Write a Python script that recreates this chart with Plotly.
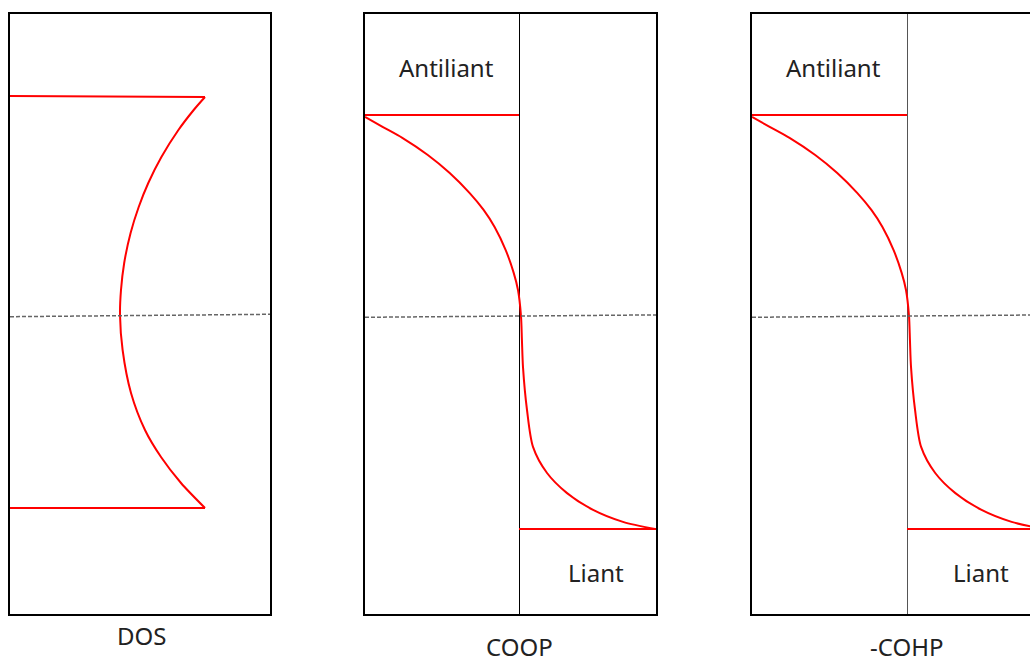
import plotly.graph_objects as go

# ---------------- data ----------------
# DOS panel (x: density, 0..1 ; E: energy, -1..1)
dos_level_top = 0.727
dos_level_bottom = -0.647
dos_curve_x = [0.75, 0.7065, 0.6477, 0.5823, 0.5319, 0.495, 0.4638, 0.4392, 0.4269, 0.4231,
               0.4331, 0.4654, 0.5192, 0.5808, 0.6577, 0.75]
dos_curve_e = [0.7233, 0.68, 0.6133, 0.5233, 0.4367, 0.3567, 0.27, 0.17, 0.08, -0.0033,
               -0.12, -0.2633, -0.3867, -0.4767, -0.5633, -0.6467]

# COOP / -COHP panels (x: population, negative = antibonding)
ab_level = 0.663      # antibonding band edge (top)
b_level = -0.717      # bonding band edge (bottom)
pop_curve_x = [-1.0, -0.8831, -0.7578, -0.5922, -0.4500, -0.3201, -0.2299, -0.1584, -0.0864,
               -0.0344, -0.0065, 0.013, 0.019, 0.026, 0.052, 0.091, 0.182, 0.312, 0.481,
               0.675, 0.883]
pop_curve_e = [0.657, 0.623, 0.587, 0.530, 0.470, 0.403, 0.347, 0.290, 0.213, 0.137,
               0.080, -0.007, -0.087, -0.177, -0.320, -0.443, -0.530, -0.597, -0.653,
               -0.693, -0.717]
pop_right_end = 0.8896

fermi_e = [-0.009, -0.001]

panel_titles = ["DOS", "COOP", "-COHP"]
top_label = "Antiliant"
bottom_label = "Liant"

# ---------------- figure ----------------
RED = "#ff0000"
fig = go.Figure()

def add(x, y, ax, **kw):
    fig.add_trace(go.Scatter(x=x, y=y, mode="lines", xaxis="x" + ax, yaxis="y" + ax,
                             showlegend=False, hoverinfo="skip", **kw))

# Panel 1: DOS
add([0, dos_curve_x[0]], [dos_level_top, dos_curve_e[0]], "", line=dict(color=RED, width=2))
add(dos_curve_x, dos_curve_e, "", line=dict(color=RED, width=2, shape="spline", smoothing=0.8))
add([dos_curve_x[-1], 0], [dos_curve_e[-1], dos_level_bottom], "", line=dict(color=RED, width=2))
add([0, 1], fermi_e, "", line=dict(color="#666666", width=1.5, dash="4px,2px"))

# Panels 2 and 3
for ax in ["2", "3"]:
    add([-1, 0], [ab_level, ab_level], ax, line=dict(color=RED, width=2))
    add(pop_curve_x, pop_curve_e, ax, line=dict(color=RED, width=2, shape="spline", smoothing=0.8))
    add([0, pop_right_end], [b_level, b_level], ax, line=dict(color=RED, width=2))
    add([-1, pop_right_end], [fermi_e[0] - 0.002, fermi_e[1] - 0.002], ax,
        line=dict(color="#666666", width=1.5, dash="4px,2px"))

W, H = 1030, 658
ydom = [1 - 614 / H, 1 - 14 / H]

common_x = dict(showgrid=False, showticklabels=False, ticks="", fixedrange=True,
                showline=True, mirror=True, linecolor="black", linewidth=2)
common_y = dict(showgrid=False, showticklabels=False, ticks="", zeroline=False,
                range=[-1, 1], domain=ydom, fixedrange=True,
                showline=True, mirror=True, linecolor="black", linewidth=2)

fig.update_layout(
    width=W, height=H,
    margin=dict(l=0, r=0, t=0, b=0),
    paper_bgcolor="white", plot_bgcolor="white",
    font=dict(family="Noto Sans, Open Sans, sans-serif", color="#222222", size=24),
    xaxis=dict(common_x, domain=[10 / W, 270 / W], range=[0, 1], zeroline=False),
    yaxis=dict(common_y, anchor="x"),
    xaxis2=dict(common_x, domain=[365 / W, 656 / W], range=[-1, pop_right_end],
                zeroline=True, zerolinecolor="black", zerolinewidth=1),
    yaxis2=dict(common_y, anchor="x2"),
    xaxis3=dict(common_x, domain=[752 / W, 1.0], range=[-1, (1030 - 907) / 155],
                zeroline=True, zerolinecolor="#555555", zerolinewidth=1),
    yaxis3=dict(common_y, anchor="x3", mirror=False),
)

ann = []
# panel labels below
ann.append(dict(text=panel_titles[0], x=141 / W, y=1 - 635 / H, xref="paper", yref="paper",
                showarrow=False, xanchor="center", yanchor="middle"))
for title, xp in [(panel_titles[1], 519), (panel_titles[2], 906)]:
    ann.append(dict(text=title, x=xp / W, y=0, xref="paper", yref="paper",
                    showarrow=False, xanchor="center", yanchor="bottom", borderpad=0,
                    height=22, valign="middle"))
# region labels
for ax, xa, xb in [("2", -0.474, 0.5), ("3", -0.477, 0.477)]:
    ann.append(dict(text=top_label, x=xa, y=0.823, xref="x" + ax, yref="y" + ax,
                    showarrow=False, xanchor="center", yanchor="middle"))
    ann.append(dict(text=bottom_label, x=xb, y=-0.863, xref="x" + ax, yref="y" + ax,
                    showarrow=False, xanchor="center", yanchor="middle"))
fig.update_layout(annotations=ann)

fig.write_html("out.html", config={"displayModeBar": False},
               post_script="document.body.style.margin='0';")
